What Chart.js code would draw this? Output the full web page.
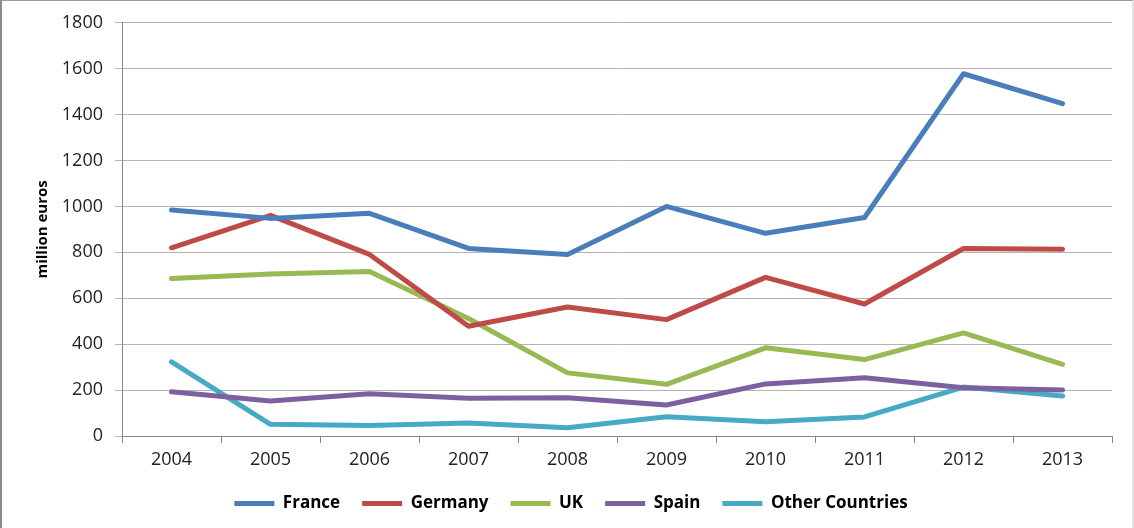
<!DOCTYPE html>
<html>
<head>
<meta charset="utf-8">
<script src="https://cdn.jsdelivr.net/npm/chart.js@4.4.0/dist/chart.umd.min.js"></script>
<style>
body{margin:0;background:#fff;}
#wrap{position:relative;width:1134px;height:528px;}
#frame{position:absolute;left:0;top:0;width:1134px;height:528px;box-sizing:border-box;border-left:2px solid #8c8c8c;border-top:1px solid #9a9a9a;border-right:2px solid #e4e4e4;pointer-events:none;}
</style>
</head>
<body>
<div id="wrap">
<canvas id="grafico" width="1134" height="528"></canvas>
<div id="frame"></div>
</div>
<script>
const years = ["2004","2005","2006","2007","2008","2009","2010","2011","2012","2013"];
const france  = [985, 948, 970, 817, 791, 1000, 883, 952, 1578, 1448];
const germany = [820, 961, 791, 478, 562, 507, 691, 575, 817, 813];
const uk      = [686, 706, 717, 512, 275, 225, 384, 333, 449, 312];
const spain   = [193, 152, 184, 164, 167, 135, 227, 254, 210, 200];
const other   = [323, 51, 46, 57, 36, 84, 62, 83, 213, 174];
const yTicks  = [0, 200, 400, 600, 800, 1000, 1200, 1400, 1600, 1800];

function serie(label, data, color){
  return {
    label: label,
    data: data,
    borderColor: color,
    backgroundColor: color,
    borderWidth: 5,
    borderCapStyle: "round",
    borderJoinStyle: "round",
    pointRadius: 0,
    pointHoverRadius: 0,
    pointStyle: "line",
    tension: 0
  };
}

const ctx = document.getElementById("grafico");

new Chart(ctx, {
  type: "line",
  data: {
    labels: years,
    datasets: [
      serie("France", france, "#4a7ebb"),
      serie("Germany", germany, "#be4b48"),
      serie("UK", uk, "#98b954"),
      serie("Spain", spain, "#7d60a0"),
      serie("Other Countries", other, "#46aac5")
    ]
  },
  options: {
    responsive: false,
    animation: false,
    layout: { padding: { left: 30, right: 22, top: 21, bottom: 6 } },
    plugins: {
      tooltip: { enabled: false },
      legend: {
        position: "bottom",
        labels: {
          usePointStyle: true,
          pointStyle: "line",
          pointStyleWidth: 40,
          padding: 22,
          color: "#000",
          font: { family: "Open Sans", size: 17, weight: "bold" }
        }
      }
    },
    scales: {
      x: {
        offset: true,
        grid: { offset: true, drawOnChartArea: false, drawTicks: true, tickLength: 7, color: "#888" },
        border: { color: "#888", width: 1 },
        ticks: { color: "#222", padding: 6, font: { family: "Open Sans", size: 18 } },
        afterFit: function(s){ s.height = 37; }
      },
      y: {
        min: 0,
        max: 1800,
        afterBuildTicks: function(s){ s.ticks = yTicks.map(v => ({ value: v })); },
        grid: { color: "#b4b4b4", tickLength: 7 },
        border: { color: "#888", width: 1 },
        ticks: {
          color: "#222",
          padding: 12,
          font: { family: "Open Sans", size: 18 },
          callback: function(v){ return String(v); }
        },
        title: {
          display: true,
          text: "million euros",
          color: "#000",
          padding: { top: 4, bottom: 0 },
          font: { family: "Open Sans", size: 15, weight: "bold" }
        },
        afterFit: function(s){ s.width = 92; }
      }
    }
  }
});
</script>
</body>
</html>
